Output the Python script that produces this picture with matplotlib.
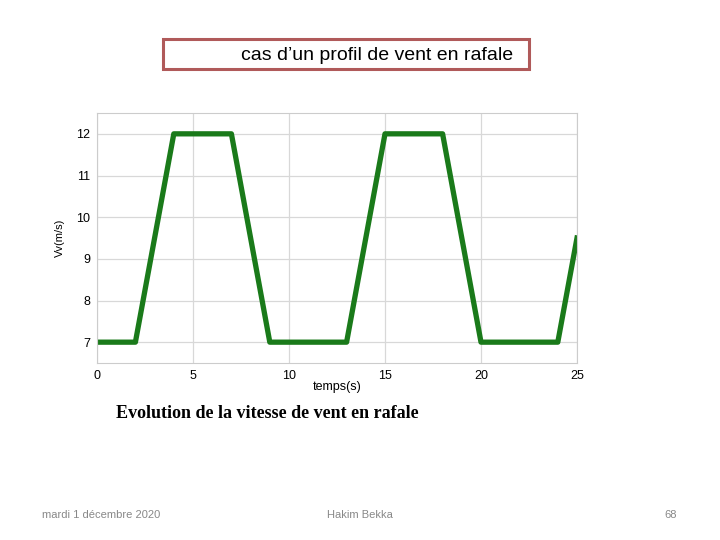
import matplotlib
matplotlib.use("Agg")
import matplotlib.pyplot as plt
from matplotlib.patches import Rectangle

# wind gust profile
temps = [0, 2, 4, 7, 9, 13, 15, 18, 20, 24, 25]
vitesse = [7, 7, 12, 12, 7, 7, 12, 12, 7, 7, 9.5]
x_ticks = [0, 5, 10, 15, 20, 25]
y_ticks = [7, 8, 9, 10, 11, 12]

title = "cas d\u2019un profil de vent en rafale"
caption = "Evolution de la vitesse de vent en rafale"
footer = ["mardi 1 décembre 2020", "Hakim Bekka", "68"]

fig = plt.figure(figsize=(7.2, 5.4), dpi=100)

# title box
fig.patches.append(Rectangle((163 / 720, 1 - 69 / 540), 366 / 720, 30 / 540,
                             transform=fig.transFigure, fill=False,
                             edgecolor="#b05a5a", linewidth=2.2))
fig.text(377 / 720, 1 - 56 / 540, title, ha="center", va="center",
         fontsize=14, family="Liberation Sans")

ax = fig.add_axes([97 / 720, 1 - 363 / 540, 480 / 720, 250 / 540])
ax.plot(temps, vitesse, color="#1a7a1a", linewidth=3.8, solid_joinstyle="round")
ax.set_xlim(0, 25)
ax.set_ylim(6.5, 12.5)
ax.set_xticks(x_ticks)
ax.set_yticks(y_ticks)
ax.grid(True, color="#d8d8d8", linewidth=0.9)
ax.tick_params(length=0, labelsize=9, pad=5)
for lab in ax.get_xticklabels() + ax.get_yticklabels():
    lab.set_family("Liberation Sans")
for sp in ax.spines.values():
    sp.set_color("#cccccc")
ax.set_xlabel("temps(s)", fontsize=9, family="Liberation Sans", labelpad=-1)
ax.set_ylabel("Vv(m/s)", fontsize=8, family="Liberation Sans", labelpad=8)

fig.text(116 / 720, 1 - 414 / 540, caption, ha="left", va="center",
         fontsize=13, family="Liberation Serif", fontweight="bold")

fig.text(42 / 720, 1 - 515 / 540, footer[0], ha="left", va="center",
         fontsize=8, color="#888888", family="Liberation Sans")
fig.text(360 / 720, 1 - 515 / 540, footer[1], ha="center", va="center",
         fontsize=8, color="#888888", family="Liberation Sans")
fig.text(677 / 720, 1 - 515 / 540, footer[2], ha="right", va="center",
         fontsize=8, color="#888888", family="Liberation Sans")

fig.savefig("out.png", dpi=100)
